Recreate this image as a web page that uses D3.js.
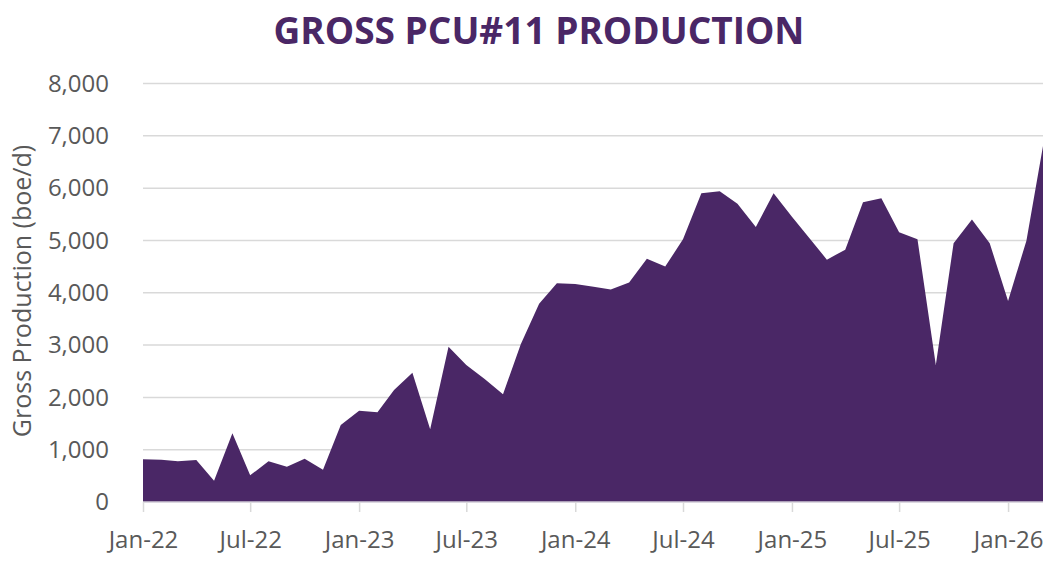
<!DOCTYPE html>
<meta charset="utf-8">
<style>
body { margin: 0; background: #fff; }
text { font-family: "Open Sans", "Noto Sans", sans-serif; }
.grid line { stroke: #d9d9d9; stroke-width: 1.5; }
.area { fill: #4a2766; }
</style>
<svg width="1051" height="562"></svg>
<script src="https://cdn.jsdelivr.net/npm/d3@7"></script>
<script>

var svg = d3.select("svg"),
    width = +svg.attr("width"),
    height = +svg.attr("height");

// monthly gross production, Jan-22 .. Mar-26 (boe/d)
var months = d3.timeMonths(new Date(2022, 0, 1), new Date(2026, 3, 1));
var production = [
  816, 809, 778, 803, 407, 1313, 510, 778, 675, 828, 618, 1472,
  1746, 1715, 2141, 2473, 1390, 2970, 2620, 2352, 2059, 3015, 3792, 4181,
  4168, 4117, 4060, 4194, 4652, 4500, 5023, 5902, 5940, 5700, 5255, 5902,
  5455, 5023, 4633, 4824, 5730, 5806, 5157, 5023, 2620, 4946, 5398, 4946,
  3843, 4996, 6807
];
var yTicks = [0, 1000, 2000, 3000, 4000, 5000, 6000, 7000, 8000];
var xTicks = d3.timeMonths(new Date(2022, 0, 1), new Date(2026, 1, 1), 6);

var data = months.map(function(m, i) { return {date: m, value: production[i]}; });

var plotLeft = 143, plotRight = 1043, plotTop = 83.5, plotBottom = 502;

var x = d3.scaleTime()
    .domain([months[0], months[months.length - 1]])
    .range([plotLeft, plotRight]);

var y = d3.scaleLinear()
    .domain([0, 8000])
    .range([plotBottom, plotTop]);

// gridlines
svg.append("g")
    .attr("class", "grid")
  .selectAll("line")
    .data(yTicks.slice(1))
    .enter().append("line")
    .attr("x1", plotLeft)
    .attr("x2", plotRight)
    .attr("y1", function(d) { return y(d); })
    .attr("y2", function(d) { return y(d); });

var area = d3.area()
    .x(function(d) { return x(d.date); })
    .y0(y(0))
    .y1(function(d) { return y(d.value); });

svg.append("path")
    .datum(data)
    .attr("class", "area")
    .attr("d", area);

// baseline
svg.append("line")
    .attr("x1", plotLeft).attr("x2", plotRight)
    .attr("y1", y(0)).attr("y2", y(0))
    .attr("stroke", "#cfcad6").attr("stroke-width", 1.5);

// x axis
var xAxis = d3.axisBottom(x)
    .tickValues(xTicks)
    .tickFormat(d3.timeFormat("%b-%y"))
    .tickSize(10)
    .tickPadding(19);

var gx = svg.append("g")
    .attr("transform", "translate(0," + y(0) + ")")
    .call(xAxis);
gx.select(".domain").remove();
gx.selectAll(".tick line").attr("stroke", "#d9d9d9").attr("stroke-width", 1.5);
gx.selectAll(".tick text")
    .attr("fill", "#595959")
    .style("font-size", "24px");

// y axis
var yAxis = d3.axisLeft(y)
    .tickValues(yTicks)
    .tickFormat(d3.format(","))
    .tickSize(0)
    .tickPadding(34);

var gy = svg.append("g")
    .attr("transform", "translate(" + plotLeft + ",0)")
    .call(yAxis);
gy.select(".domain").remove();
gy.selectAll(".tick text")
    .attr("fill", "#595959")
    .style("font-size", "24px");

// y title
svg.append("text")
    .attr("transform", "translate(31,291) rotate(-90)")
    .attr("text-anchor", "middle")
    .attr("fill", "#595959")
    .style("font-size", "25px")
    .text("Gross Production (boe/d)");

// chart title
svg.append("text")
    .attr("x", 539)
    .attr("y", 44)
    .attr("text-anchor", "middle")
    .attr("fill", "#4a2766")
    .style("font-size", "37px")
    .style("font-weight", "bold")
    .text("GROSS PCU#11 PRODUCTION");

</script>
